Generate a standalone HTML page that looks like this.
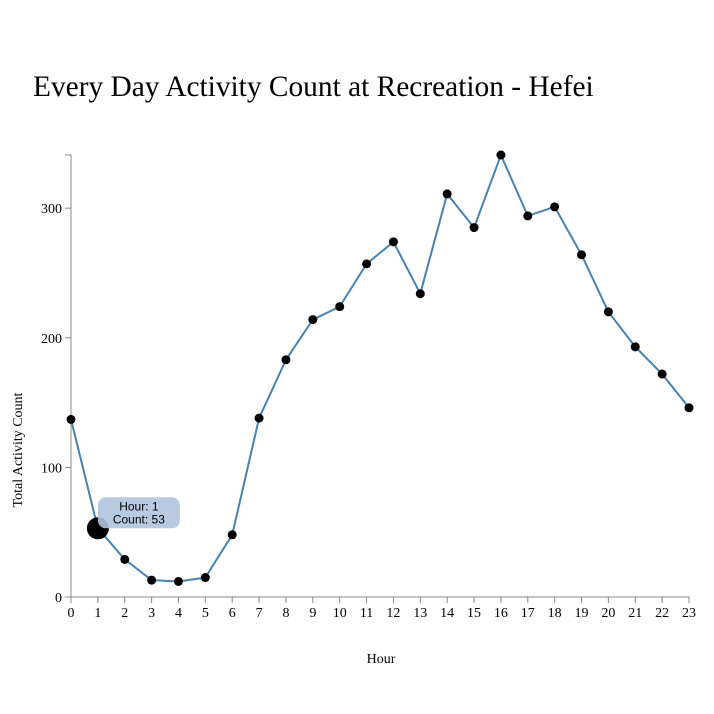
<!DOCTYPE html>
<html><head><meta charset="utf-8"><style>
body{margin:0;background:#fff;}
svg{display:block;font-family:"Liberation Serif",serif;}
</style></head><body>
<svg id="chart" width="714" height="714">
<text x="33" y="96" font-size="29.4" fill="#000">Every Day Activity Count at Recreation - Hefei</text>
<g id="axes"></g>
<g id="plot"></g>
<text x="381" y="663" font-size="14" text-anchor="middle">Hour</text>
<text transform="translate(22,450) rotate(-90)" font-size="14" text-anchor="middle">Total Activity Count</text>
</svg>
<script>
const hours=[0,1,2,3,4,5,6,7,8,9,10,11,12,13,14,15,16,17,18,19,20,21,22,23];
const counts=[137,53,29,13,12,15,48,138,183,214,224,257,274,234,311,285,341,294,301,264,220,193,172,146];
const yTicks=[0,100,200,300];
const NS="http://www.w3.org/2000/svg";
const x0=71,x1=689,y0=597,y1=155;
const yMax=Math.max(...counts);
const xs=h=>x0+(h-hours[0])/(hours[hours.length-1]-hours[0])*(x1-x0);
const ys=v=>y0-v/yMax*(y0-y1);
function mk(t,a,p){const e=document.createElementNS(NS,t);for(const k in a)e.setAttribute(k,a[k]);p.appendChild(e);return e;}
const ax=document.getElementById('axes'),pl=document.getElementById('plot');
const xa=mk('path',{d:`M${x0},${y0+6}V${y0}H${x1}V${y0+6}`,fill:'none',stroke:'#888'},ax);


const ya=mk('path',{d:`M${x0-6},${y1}H${x0}V${y0}H${x0-6}`,fill:'none',stroke:'#888'},ax);


hours.forEach(h=>{const x=xs(h);mk('line',{x1:x,x2:x,y1:y0,y2:y0+6,stroke:'#888'},ax);
const t=mk('text',{x:x,y:y0+20,'font-size':14,'text-anchor':'middle'},ax);t.textContent=h;

});
yTicks.forEach(v=>{const y=ys(v);mk('line',{x1:x0-6,x2:x0,y1:y,y2:y,stroke:'#888'},ax);
const t=mk('text',{x:x0-9,y:y+5,'font-size':14,'text-anchor':'end'},ax);t.textContent=v;

});
const line=mk('path',{d:hours.map((h,i)=>(i?'L':'M')+xs(h)+','+ys(counts[i])).join(''),fill:'none',stroke:'steelblue','stroke-width':2},pl);


hours.forEach((h,i)=>{const c=mk('circle',{cx:xs(h),cy:ys(counts[i]),r:i===1?11:4.5,fill:'#000'},pl);

});
const tx=xs(hours[1]),ty=ys(counts[1]);
const tg=mk('g',{},pl);


mk('rect',{x:tx,y:ty-31,width:82,height:31,rx:8,fill:'lightsteelblue','fill-opacity':0.9},tg);
const t1=mk('text',{x:tx+41,y:ty-18,'font-size':12,'text-anchor':'middle','font-family':'Liberation Sans, sans-serif'},tg);t1.textContent='Hour: '+hours[1];
const t2=mk('text',{x:tx+41,y:ty-5,'font-size':12,'text-anchor':'middle','font-family':'Liberation Sans, sans-serif'},tg);t2.textContent='Count: '+counts[1];
</script>
</body></html>
